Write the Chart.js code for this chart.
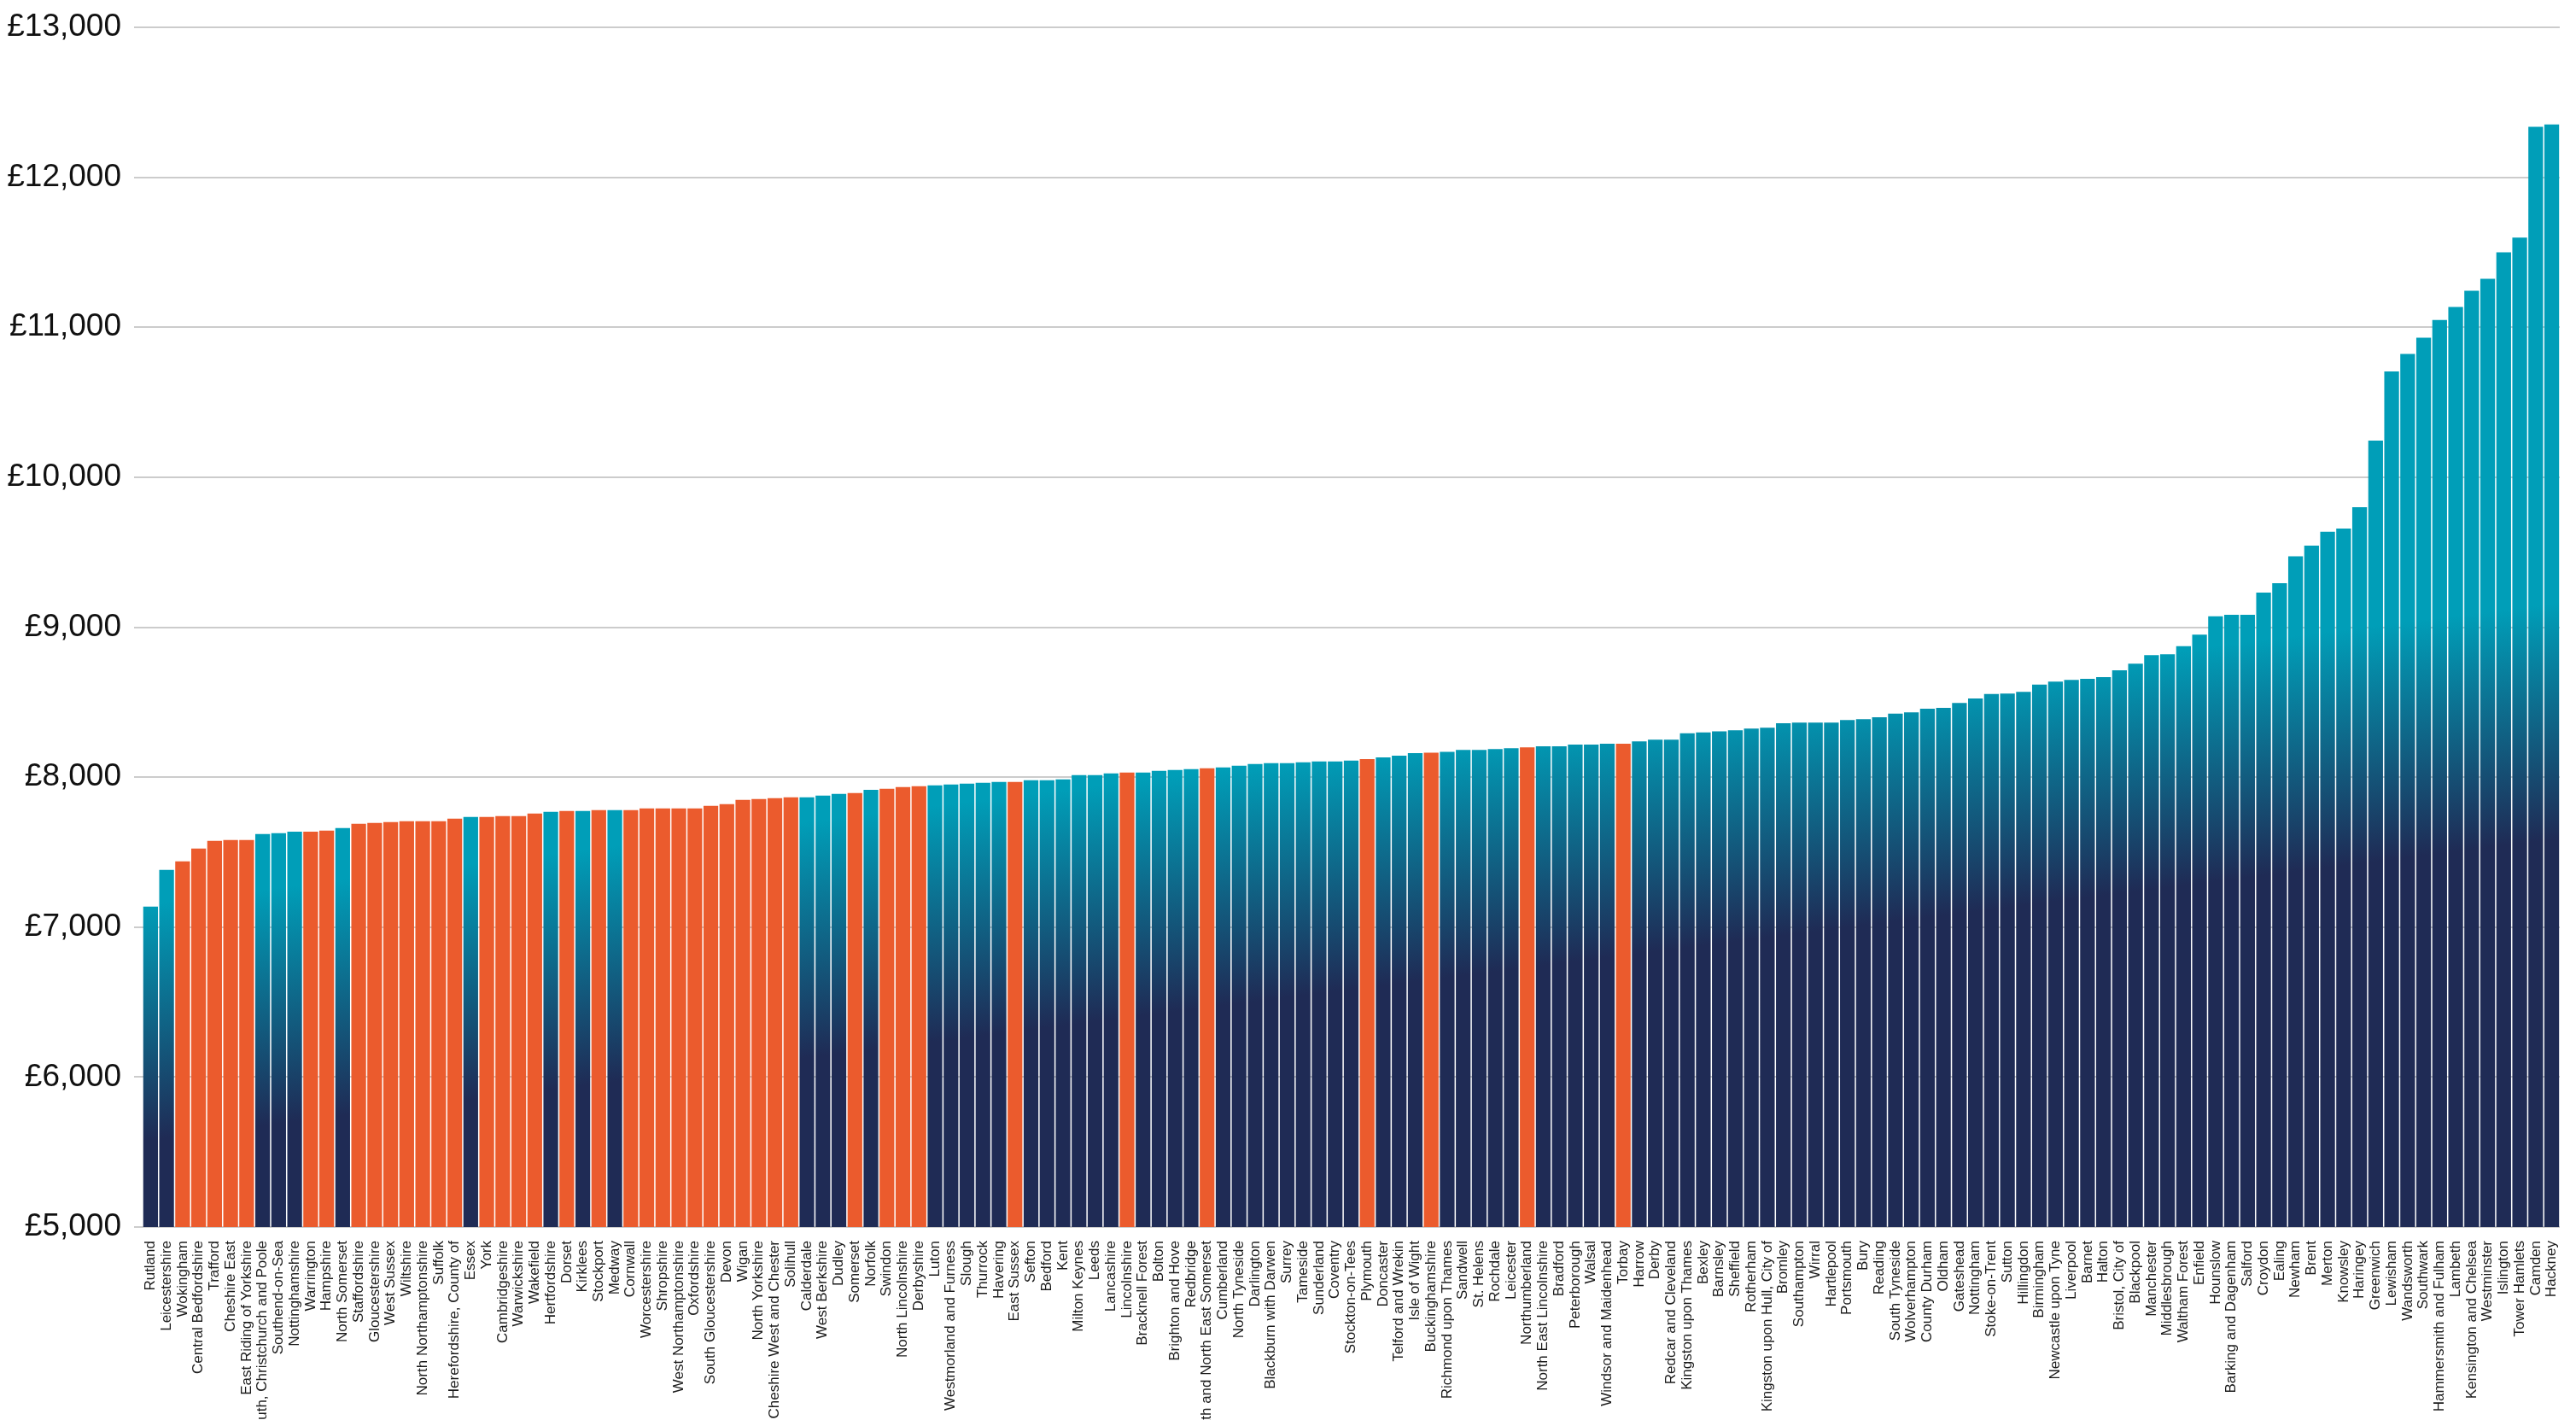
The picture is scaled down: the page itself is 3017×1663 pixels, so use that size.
<!DOCTYPE html>
<html>
<head>
<meta charset="utf-8">
<script src="https://cdn.jsdelivr.net/npm/chart.js@4"></script>
<style>
  html, body { margin: 0; padding: 0; background: #ffffff; }
  #wrap { width: 3017px; height: 1663px; position: relative; overflow: hidden; }
</style>
</head>
<body>
<div id="wrap"><canvas id="c" width="3017" height="1663"></canvas></div>
<script>
const areas = [
  "Rutland","Leicestershire","Wokingham","Central Bedfordshire","Trafford","Cheshire East",
  "East Riding of Yorkshire","Bournemouth, Christchurch and Poole","Southend-on-Sea","Nottinghamshire",
  "Warrington","Hampshire","North Somerset","Staffordshire","Gloucestershire","West Sussex","Wiltshire",
  "North Northamptonshire","Suffolk","Herefordshire, County of","Essex","York","Cambridgeshire",
  "Warwickshire","Wakefield","Hertfordshire","Dorset","Kirklees","Stockport","Medway","Cornwall",
  "Worcestershire","Shropshire","West Northamptonshire","Oxfordshire","South Gloucestershire","Devon",
  "Wigan","North Yorkshire","Cheshire West and Chester","Solihull","Calderdale","West Berkshire","Dudley",
  "Somerset","Norfolk","Swindon","North Lincolnshire","Derbyshire","Luton","Westmorland and Furness",
  "Slough","Thurrock","Havering","East Sussex","Sefton","Bedford","Kent","Milton Keynes","Leeds",
  "Lancashire","Lincolnshire","Bracknell Forest","Bolton","Brighton and Hove","Redbridge",
  "Bath and North East Somerset","Cumberland","North Tyneside","Darlington","Blackburn with Darwen",
  "Surrey","Tameside","Sunderland","Coventry","Stockton-on-Tees","Plymouth","Doncaster",
  "Telford and Wrekin","Isle of Wight","Buckinghamshire","Richmond upon Thames","Sandwell","St. Helens",
  "Rochdale","Leicester","Northumberland","North East Lincolnshire","Bradford","Peterborough","Walsal",
  "Windsor and Maidenhead","Torbay","Harrow","Derby","Redcar and Cleveland","Kingston upon Thames",
  "Bexley","Barnsley","Sheffield","Rotherham","Kingston upon Hull, City of","Bromley","Southampton",
  "Wirral","Hartlepool","Portsmouth","Bury","Reading","South Tyneside","Wolverhampton","County Durham",
  "Oldham","Gateshead","Nottingham","Stoke-on-Trent","Sutton","Hillingdon","Birmingham",
  "Newcastle upon Tyne","Liverpool","Barnet","Halton","Bristol, City of","Blackpool","Manchester",
  "Middlesbrough","Waltham Forest","Enfield","Hounslow","Barking and Dagenham","Salford","Croydon",
  "Ealing","Newham","Brent","Merton","Knowsley","Haringey","Greenwich","Lewisham","Wandsworth",
  "Southwark","Hammersmith and Fulham","Lambeth","Kensington and Chelsea","Westminster","Islington",
  "Tower Hamlets","Camden","Hackney"
];

const spending = [
  7136,7381,7438,7524,7575,7581,7581,7620,7626,7637,
  7637,7643,7660,7689,7694,7700,7706,7706,7706,7723,
  7734,7734,7740,7740,7757,7768,7774,7774,7780,7780,
  7780,7791,7791,7791,7791,7808,7820,7848,7854,7860,
  7865,7865,7877,7888,7894,7916,7922,7934,7939,7945,
  7951,7956,7962,7968,7968,7979,7979,7985,8013,8013,
  8025,8030,8030,8042,8047,8053,8059,8065,8076,8087,
  8093,8093,8099,8104,8104,8110,8120,8131,8143,8160,
  8163,8169,8181,8181,8187,8193,8199,8205,8205,8217,
  8217,8223,8223,8238,8250,8250,8292,8298,8306,8312,
  8324,8330,8360,8363,8363,8363,8381,8387,8399,8423,
  8432,8456,8462,8494,8524,8554,8557,8569,8617,8637,
  8649,8655,8667,8712,8757,8813,8819,8873,8950,9073,
  9082,9082,9231,9293,9472,9544,9636,9657,9800,10244,
  10706,10822,10930,11049,11135,11243,11323,11499,11598,12337,
  12352
];

const highlightedAreas = [
  "Wokingham","Central Bedfordshire","Trafford","Cheshire East","East Riding of Yorkshire",
  "Warrington","Hampshire","Staffordshire","Gloucestershire","West Sussex","Wiltshire",
  "North Northamptonshire","Suffolk","Herefordshire, County of","York","Cambridgeshire","Warwickshire",
  "Wakefield","Dorset","Stockport","Cornwall","Worcestershire","Shropshire","West Northamptonshire",
  "Oxfordshire","South Gloucestershire","Devon","Wigan","North Yorkshire","Cheshire West and Chester",
  "Solihull","Somerset","Swindon","North Lincolnshire","Derbyshire","East Sussex","Lincolnshire",
  "Bath and North East Somerset","Plymouth","Buckinghamshire","Northumberland","Torbay"
];

const yMin = 5000, yMax = 13000, yStep = 1000;

const ORANGE = '#EB5B2D';
const TEAL = '#009EB8';
const NAVY = '#1F2B55';
let gradCache = null;

function barColor(ctx) {
  const name = areas[ctx.dataIndex];
  if (highlightedAreas.includes(name)) return ORANGE;
  const chart = ctx.chart;
  const ca = chart.chartArea;
  if (!ca) return TEAL;
  const key = ca.left + ',' + ca.top + ',' + ca.right + ',' + ca.bottom;
  if (gradCache && gradCache.key === key) return gradCache.g;
  const ys = chart.scales.y;
  const x0 = ca.left;
  const y0 = ys.getPixelForValue(7150);
  const y1 = ys.getPixelForValue(5600);
  const g = chart.ctx.createLinearGradient(x0, y0, x0 + (y1 - y0) * 0.125, y1);
  g.addColorStop(0, TEAL);
  g.addColorStop(1, NAVY);
  gradCache = { key, g };
  return g;
}

Chart.defaults.font.family = '"Liberation Sans", Arial, Helvetica, sans-serif';
Chart.defaults.color = '#111';

new Chart(document.getElementById('c'), {
  type: 'bar',
  data: {
    labels: areas,
    datasets: [{
      data: spending,
      backgroundColor: barColor,
      borderWidth: 0,
      barPercentage: 0.92,
      categoryPercentage: 1.0
    }]
  },
  options: {
    responsive: false,
    animation: false,
    devicePixelRatio: 1,
    layout: { padding: { top: 32, right: 11, bottom: 0, left: 0 } },
    plugins: { legend: { display: false }, tooltip: { enabled: false } },
    scales: {
      x: {
        grid: { display: false },
        border: { display: false },
        ticks: {
          autoSkip: false,
          maxRotation: 90,
          minRotation: 90,
          padding: 8,
          color: '#1a1a1a',
          font: { size: 17 }
        },
        afterFit(scale) { scale.height = 226; }
      },
      y: {
        min: yMin,
        max: yMax,
        border: { display: false },
        grid: {
          color: '#cccccc',
          lineWidth: 2,
          drawTicks: true,
          tickLength: 10,
          tickColor: '#cccccc'
        },
        ticks: {
          stepSize: yStep,
          padding: 15,
          color: '#111',
          font: { size: 37, lineHeight: 1.0 },
          callback: (v) => '£' + Number(v).toLocaleString('en-GB')
        },
        afterFit(scale) {
          scale.width = 167;
          scale.paddingTop = 0;
          scale.paddingBottom = 0;
        }
      }
    }
  }
});
</script>
</body>
</html>
